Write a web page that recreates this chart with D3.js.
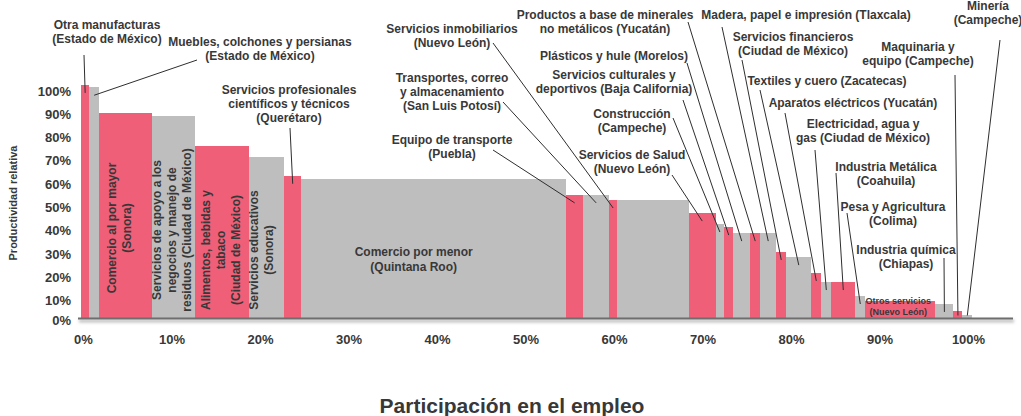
<!DOCTYPE html>
<html>
<head>
<meta charset="utf-8">
<script src="https://cdn.jsdelivr.net/npm/d3@7"></script>
<style>
  body { margin: 0; background: #fff; }
  svg { display: block; font-family: "Liberation Sans", Arial, Helvetica, sans-serif; }
</style>
</head>
<body>
<svg id="chart" width="1021" height="416"></svg>
<script>

// Sectors, ordered by relative productivity (descending)
const sectors = [
  "Otra manufacturas (Estado de México)",
  "Muebles, colchones y persianas (Estado de México)",
  "Comercio al por mayor (Sonora)",
  "Servicios de apoyo a los negocios y manejo de residuos (Ciudad de México)",
  "Alimentos, bebidas y tabaco (Ciudad de México)",
  "Servicios educativos (Sonora)",
  "Servicios profesionales científicos y técnicos (Querétaro)",
  "Comercio por menor (Quintana Roo)",
  "Equipo de transporte (Puebla)",
  "Transportes, correo y almacenamiento (San Luis Potosí)",
  "Servicios inmobiliarios (Nuevo León)",
  "",
  "Servicios de Salud (Nuevo León)",
  "Construcción (Campeche)",
  "Servicios culturales y deportivos (Baja California)",
  "Plásticos y hule (Morelos)",
  "Productos a base de minerales no metálicos (Yucatán)",
  "Madera, papel e impresión (Tlaxcala)",
  "Servicios financieros (Ciudad de México)",
  "Textiles y cuero (Zacatecas)",
  "Aparatos eléctricos (Yucatán)",
  "Electricidad, agua y gas (Ciudad de México)",
  "Industria Metálica (Coahuila)",
  "Pesa y Agricultura (Colima)",
  "Otros servicios (Nuevo León)",
  "Industria química (Chiapas)",
  "Maquinaria y equipo (Campeche)",
  "Minería (Campeche)"
];

// Share of employment (%) -> bar width
const employmentShare = [
  0.94, 1.10, 5.96, 4.93, 6.04, 3.99, 1.92, 29.94, 1.92, 2.94,
  0.90, 8.11, 3.01, 0.98, 1.02, 1.92, 1.13, 1.81, 1.13, 2.83,
  1.13, 1.13, 2.71, 1.13, 7.92, 2.04, 1.02, 1.10
];

// Relative productivity (%) -> bar height
const productivity = [
  102.4, 101.4, 90.3, 89.1, 76.3, 71.5, 63.4, 62.0, 55.2, 55.2,
  53.0, 53.0, 47.4, 42.7, 41.4, 38.8, 38.8, 38.8, 30.7, 28.5,
  21.7, 17.8, 17.8, 11.8, 9.7, 8.4, 5.4, 3.6
];

const tickValues = [0, 10, 20, 30, 40, 50, 60, 70, 80, 90, 100];

// Callouts: label text placed outside the bars, with a leader line to the bar
const callouts = [
  {i: 0,  lines: ["Otra manufacturas", "(Estado de México)"], x: 107, y: 25, from: [84, 55]},
  {i: 1,  lines: ["Muebles, colchones y persianas", "(Estado de México)"], x: 260, y: 42, from: [197, 60]},
  {i: 6,  lines: ["Servicios profesionales", "científicos y técnicos", "(Querétaro)"], x: 289, y: 90, from: [290, 128]},
  {i: 10, lines: ["Servicios inmobiliarios", "(Nuevo León)"], x: 452, y: 29, from: [493, 43]},
  {i: 9,  lines: ["Transportes, correo", "y almacenamiento", "(San Luis Potosí)"], x: 452, y: 78, from: [503, 102]},
  {i: 8,  lines: ["Equipo de transporte", "(Puebla)"], x: 452, y: 140, from: [493, 150]},
  {i: 16, lines: ["Productos a base de minerales", "no metálicos (Yucatán)"], x: 605, y: 15, from: [688, 22]},
  {i: 15, lines: ["Plásticos y hule (Morelos)"], x: 614, y: 56, from: [687, 63]},
  {i: 14, lines: ["Servicios culturales y", "deportivos (Baja California)"], x: 614, y: 75, from: [683, 100]},
  {i: 13, lines: ["Construcción", "(Campeche)"], x: 632, y: 114, from: [673, 118]},
  {i: 12, lines: ["Servicios de Salud", "(Nuevo León)"], x: 632, y: 155, from: [672, 175]},
  {i: 17, lines: ["Madera, papel e impresión (Tlaxcala)"], x: 806, y: 15, from: [722, 27]},
  {i: 18, lines: ["Servicios financieros", "(Ciudad de México)"], x: 793, y: 37, from: [742, 60]},
  {i: 19, lines: ["Textiles y cuero (Zacatecas)"], x: 827, y: 81, from: [760, 90]},
  {i: 20, lines: ["Aparatos eléctricos (Yucatán)"], x: 853, y: 103, from: [785, 113]},
  {i: 21, lines: ["Electricidad, agua y", "gas (Ciudad de México)"], x: 863, y: 124, from: [815, 150]},
  {i: 22, lines: ["Industria Metálica", "(Coahuila)"], x: 886, y: 167, from: [836, 173]},
  {i: 23, lines: ["Pesa y Agricultura", "(Colima)"], x: 893, y: 207, from: [847, 213]},
  {i: 25, lines: ["Industria química", "(Chiapas)"], x: 906, y: 250, from: [944, 258]},
  {i: 26, lines: ["Maquinaria y", "equipo (Campeche)"], x: 918, y: 47, from: [955, 75]},
  {i: 27, lines: ["Minería", "(Campeche)"], x: 988, y: 6, from: [1000, 40]}
];

// Labels written inside the bars
const innerLabels = [
  {i: 2,  lines: ["Comercio al por mayor", "(Sonora)"], rot: true, dx: -6, y: 228},
  {i: 3,  lines: ["Servicios de apoyo a los", "negocios y manejo de", "residuos (Ciudad de México)"], rot: true, dx: -2, y: 230},
  {i: 4,  lines: ["Alimentos, bebidas y", "tabaco", "(Ciudad de México)"], rot: true, dx: -1, y: 250},
  {i: 5,  lines: ["Servicios educativos", "(Sonora)"], rot: true, dx: -5, y: 250},
  {i: 7,  lines: ["Comercio por menor", "(Quintana Roo)"], dx: -20, y: 252},
  {i: 24, lines: ["Otros servicios", "(Nuevo León)"], dx: -2, y: 301, small: true}
];

const PINK = "#ef5f78", GREY = "#bebebe", TEXT = "#383838";

const svg = d3.select("#chart");

const x = d3.scaleLinear().domain([0, 100]).range([81, 966]);
const y = d3.scaleLinear().domain([0, 100]).range([323.5, 90.5]);
const baseY = 318.5;

// cumulative starts
const starts = [0, ...d3.cumsum(employmentShare)].slice(0, employmentShare.length);
const bars = sectors.map((name, i) => ({
  name, i,
  x0: starts[i],
  x1: starts[i] + employmentShare[i],
  v: productivity[i]
}));
const cx = d => (x(d.x0) + x(d.x1)) / 2;

// shadow for the baseline
const defs = svg.append("defs");
const f = defs.append("filter").attr("id", "shadow")
  .attr("x", "-5%").attr("y", "-200%").attr("width", "110%").attr("height", "600%");
f.append("feDropShadow").attr("dx", 1).attr("dy", 2.5).attr("stdDeviation", 1.6)
  .attr("flood-color", "#888").attr("flood-opacity", 0.8);

// Bars
svg.append("g").selectAll("rect")
  .data(bars)
  .join("rect")
    .attr("x", d => x(d.x0))
    .attr("width", d => x(d.x1) - x(d.x0))
    .attr("y", d => y(d.v))
    .attr("height", d => baseY - y(d.v))
    .attr("fill", d => d.i % 2 === 0 ? PINK : GREY)
    .attr("shape-rendering", "crispEdges");

// Baseline
svg.append("rect")
  .attr("x", 78).attr("width", 935)
  .attr("y", baseY - 1).attr("height", 2)
  .attr("fill", "#6e6e6e")
  .attr("filter", "url(#shadow)");

// Y axis (labels only)
const yAxis = svg.append("g")
  .attr("transform", "translate(71,0)")
  .call(d3.axisLeft(y).tickValues(tickValues).tickFormat(d => d + "%").tickSize(0).tickPadding(0));
yAxis.select(".domain").remove();
yAxis.selectAll("text")
  .attr("font-size", 13).attr("font-weight", "bold")
  .attr("font-family", "Liberation Sans, Arial, sans-serif")
  .attr("fill", TEXT).attr("dy", "0.35em");
// the zero label sits a little above the scale position
yAxis.selectAll(".tick").filter(d => d === 0).select("text").attr("dy", "0.08em");

// X axis (labels only)
const xAxis = svg.append("g")
  .attr("transform", "translate(2,339)")
  .call(d3.axisBottom(x).tickValues(tickValues).tickFormat(d => d + "%").tickSize(0).tickPadding(0));
xAxis.select(".domain").remove();
xAxis.selectAll("text")
  .attr("font-size", 13).attr("font-weight", "bold")
  .attr("font-family", "Liberation Sans, Arial, sans-serif")
  .attr("fill", TEXT).attr("y", 0).attr("dy", "0.35em");

// Axis titles
svg.append("text")
  .attr("x", 512).attr("y", 405)
  .attr("text-anchor", "middle").attr("dominant-baseline", "central")
  .attr("font-size", 21).attr("font-weight", "bold").attr("fill", TEXT)
  .text("Participación en el empleo");

svg.append("text")
  .attr("transform", "translate(13,203) rotate(-90)")
  .attr("text-anchor", "middle").attr("dominant-baseline", "central")
  .attr("font-size", 11).attr("font-weight", "bold").attr("fill", TEXT)
  .text("Productividad relativa");

// Leader lines
svg.append("g").selectAll("line")
  .data(callouts)
  .join("line")
    .attr("x1", d => d.from[0]).attr("y1", d => d.from[1])
    .attr("x2", d => cx(bars[d.i]))
    .attr("y2", d => Math.min(y(bars[d.i].v) + 8, baseY - 3))
    .attr("stroke", "#2e2e2e").attr("stroke-width", 1);

// Callout labels
const co = svg.append("g").selectAll("text")
  .data(callouts)
  .join("text")
    .attr("text-anchor", "middle")
    .attr("font-size", 12).attr("font-weight", "bold").attr("fill", TEXT);
co.selectAll("tspan")
  .data(d => d.lines.map((t, k) => ({t, k, d})))
  .join("tspan")
    .attr("x", e => e.d.x)
    .attr("y", e => e.d.y + e.k * 14)
    .attr("dominant-baseline", "central")
    .text(e => e.t);

// Labels inside bars
innerLabels.forEach(lab => {
  const b = bars[lab.i];
  const gap = lab.small ? 11 : 15;
  const n = lab.lines.length;
  const g = svg.append("g");
  lab.lines.forEach((t, k) => {
    const off = (k - (n - 1) / 2) * gap;
    const txt = g.append("text")
      .attr("text-anchor", "middle").attr("dominant-baseline", "central")
      .attr("font-size", lab.small ? 9 : 12).attr("font-weight", "bold")
      .attr("fill", TEXT)
      .text(t);
    if (lab.rot) {
      txt.attr("transform", `translate(${cx(b) + lab.dx + off},${lab.y}) rotate(-90)`);
    } else {
      txt.attr("x", cx(b) + lab.dx).attr("y", lab.y + k * gap);
    }
  });
});

</script>
</body>
</html>
